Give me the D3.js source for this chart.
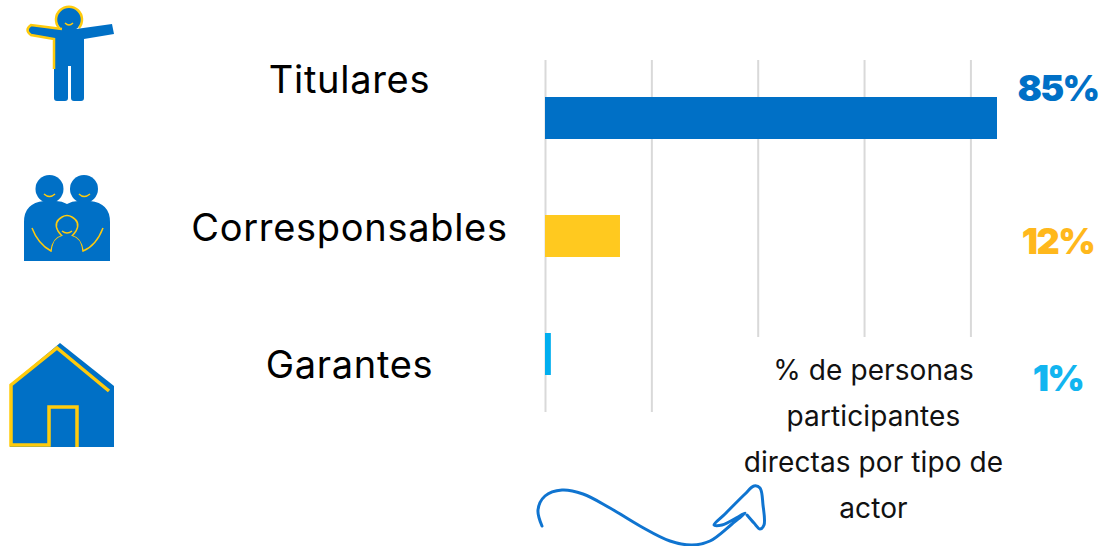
<!DOCTYPE html>
<html><head><meta charset="utf-8">
<style>html,body{margin:0;padding:0;background:#fff}svg{display:block}</style>
<script src="https://cdn.jsdelivr.net/npm/d3@7"></script></head><body><div id="c"></div>
<script>
const categories=["Titulares","Corresponsables","Garantes"];
const barValues=[85,14.1,1.1];
const valueLabels=["85%","12%","1%"];
const barColors=["#0070c6","#ffc91f","#00aeef"];
const labelColors=["#0070c6","#ffb81c","#12b5f0"];
const gridTicks=[0,20,40,60,80];
const noteLines=["% de personas","participantes","directas por tipo de","actor"];
const font="Inter, Lato, sans-serif";
const blue="#0070c6",yel="#ffcb0c";
const W=1104,H=546;
const svg=d3.select("#c").append("svg").attr("width",W).attr("height",H);
const x=d3.scaleLinear().domain([0,85]).range([545,997]);
const centers=[118,236,354];
const bandY=d3.scaleOrdinal().domain(categories).range(centers);
const labelY=d3.scaleOrdinal().domain(categories).range([79,227,364]);
const valueY=d3.scaleOrdinal().domain(categories).range([88,241,378]);

const gridG=svg.append("g");
gridG.selectAll("line").data(gridTicks).join("line")
  .attr("x1",d=>x(d)+0.5).attr("x2",d=>x(d)+0.5)
  .attr("y1",60).attr("y2",d=>d>=40?337:412)
  .attr("stroke","#d9d9d9").attr("stroke-width",2);

svg.append("g").selectAll("rect").data(categories).join("rect")
  .attr("x",x(0)).attr("y",d=>bandY(d)-21).attr("height",42)
  .attr("width",(d,i)=>x(barValues[i])-x(0)).attr("fill",(d,i)=>barColors[i]);

svg.append("g").selectAll("text").data(categories).join("text")
  .attr("x",349.5).attr("y",d=>labelY(d)).attr("text-anchor","middle").attr("dominant-baseline","central")
  .attr("font-family",font).attr("font-size",38).attr("letter-spacing",0.7).attr("fill","#000").text(d=>d);

svg.append("g").selectAll("text").data(categories).join("text")
  .attr("x",1058).attr("y",d=>valueY(d)).attr("text-anchor","middle").attr("dominant-baseline","central")
  .attr("font-family",font).attr("font-weight",900).attr("font-size",36).attr("letter-spacing",-1.6)
  .attr("fill",(d,i)=>labelColors[i]).text((d,i)=>valueLabels[i]);

svg.append("g").selectAll("text").data(noteLines).join("text")
  .attr("x",873.5).attr("y",(d,i)=>370+i*46).attr("text-anchor","middle").attr("dominant-baseline","central")
  .attr("font-family",font).attr("font-size",28).attr("letter-spacing",0.1).attr("fill","#111").text(d=>d);

const lineC=d3.line().curve(d3.curveCatmullRom.alpha(0.5));
svg.append("path").attr("fill","none").attr("stroke","#0f74d0").attr("stroke-width",3).attr("stroke-linecap","round")
 .attr("stroke-linejoin","round")
 .attr("d",lineC([[542,526],[538,510],[545,496],[562,490],[583,494],[610,508],[640,526],[670,541],[692,545],[710,541],[732,524],[745,513],[738,517],[722,525],[714,525],[725,514],[745,494],[754,486],[760,488],[763,505],[764,525],[760,529],[754,523],[747,515]]));

// Icons (pictograms)
const person=svg.append("g");
person.append("circle").attr("cx",69).attr("cy",19).attr("r",12.5).attr("fill",blue);
person.append("path").attr("fill","none").attr("stroke",yel).attr("stroke-width",2.5).attr("d","M59 28 A13 13 0 1 1 79 28");
person.append("path").attr("fill",blue).attr("d","M31 25 L62 29 L76 29 L112 24 L114 34 L84 39 L84 98 Q84 101 81 101 L74 101 Q71 101 71 98 L71 66 L68 66 L68 98 Q68 101 65 101 L57 101 Q54 101 54 98 L54 39 L31 35 Q26 30 31 25Z");
person.append("path").attr("fill","none").attr("stroke",yel).attr("stroke-width",2.5).attr("d","M62 29 L31 25 Q24 30 31 35 L54 39 L54 69");
person.append("path").attr("fill","none").attr("stroke",yel).attr("stroke-width",1.5).attr("d","M65 23 Q69 27 73 23");

const fam=svg.append("g");
fam.append("circle").attr("cx",49.5).attr("cy",189).attr("r",14).attr("fill",blue);
fam.append("circle").attr("cx",84).attr("cy",189).attr("r",14).attr("fill",blue);
fam.append("path").attr("fill",blue).attr("d","M24 261 L24 222 Q24 203 44 201 L56 201 Q62 201 67 204 Q72 201 78 201 L90 201 Q110 203 110 222 L110 261Z");
fam.append("path").attr("fill","none").attr("stroke",yel).attr("stroke-width",1.5).attr("d","M44 194 Q49.5 199 55 194 M79 194 Q84 199 90 194 M62 231 Q67 235 72 231");
fam.append("path").attr("fill",blue).attr("stroke",yel).attr("stroke-width",1.5).attr("d","M32 228 Q38 244 51 251 Q53 238 62 236 Q60 234 58 231 Q53 222 62 217 Q67 214 72 217 Q81 222 76 231 Q74 234 72 236 Q81 238 83 251 Q96 246 103 228");
fam.append("rect").attr("x",24).attr("y",252).attr("width",86).attr("height",9).attr("fill",blue);
fam.append("path").attr("fill",blue).attr("d","M52 250 Q53 238 62 236 L72 236 Q81 238 82 250 L82 256 L52 256Z");

const house=svg.append("g");
house.append("path").attr("fill",blue).attr("d","M10 385 L60 343 L114 386 L114 447 L10 447Z");
house.append("path").attr("fill","none").attr("stroke",yel).attr("stroke-width",3.5).attr("d","M77 447 L77 407 L49 407 L49 445 L11 445 L11 385 L57 348 L109 391");
</script></body></html>
